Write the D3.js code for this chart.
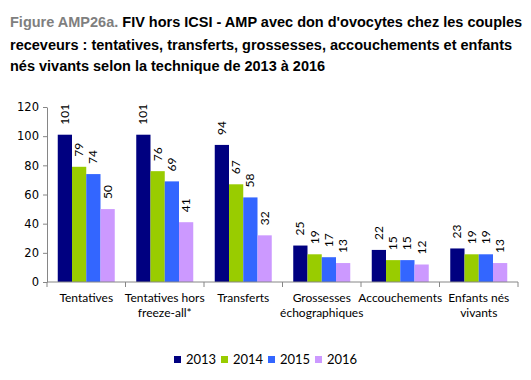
<!DOCTYPE html>
<html><head><meta charset="utf-8">
<script src="https://cdn.jsdelivr.net/npm/d3@7"></script>
<style>body{margin:0;background:#fff}</style>
</head><body>
<svg id="c" width="531" height="380"></svg>
<script>
const categories = [["Tentatives"],["Tentatives hors","freeze-all*"],["Transferts"],["Grossesses","échographiques"],["Accouchements"],["Enfants nés","vivants"]];
const years = ["2013","2014","2015","2016"];
const v2013 = [101,101,94,25,22,23];
const v2014 = [79,76,67,19,15,19];
const v2015 = [74,69,58,17,15,19];
const v2016 = [50,41,32,13,12,13];
const series = [v2013,v2014,v2015,v2016];
const colors = ["#000080","#99CC00","#3366FF","#CC99FF"];
const yTicks = [0,20,40,60,80,100,120];

const svg = d3.select("#c");
const tf = "Liberation Sans, Arial, sans-serif";
const t = svg.append("text").attr("x",10).attr("y",27).attr("font-family",tf).attr("font-size",14.5).attr("font-weight","bold");
t.append("tspan").attr("fill","#7f7f7f").text("Figure AMP26a. ");
t.append("tspan").attr("fill","#000").text("FIV hors ICSI - AMP avec don d'ovocytes chez les couples");
svg.append("text").attr("x",10).attr("y",50).attr("font-family",tf).attr("font-size",14.5).attr("font-weight","bold").text("receveurs : tentatives, transferts, grossesses, accouchements et enfants");
svg.append("text").attr("x",10).attr("y",71).attr("font-family",tf).attr("font-size",14.5).attr("font-weight","bold").text("nés vivants selon la technique de 2013 à 2016");

const x0 = d3.scaleBand().domain(d3.range(categories.length)).range([47,518]);
const x1 = d3.scaleBand().domain(years).range([0,57]);
const y = d3.scaleLinear().domain([0,120]).range([282,107]);
const font = "Lato, Carlito, Calibri, sans-serif";

const ya = svg.append("g").attr("transform","translate(47,0)").call(d3.axisLeft(y).tickValues(yTicks).tickSize(4).tickSizeOuter(0));
ya.select(".domain").attr("stroke","#868686");
ya.selectAll(".tick line").attr("stroke","#868686");
ya.selectAll(".tick text").attr("font-family","DejaVu Sans, Verdana, sans-serif").attr("font-size",11.5).attr("fill","#000").attr("x",-8);

const gOff = (x0.bandwidth()-57)/2;
series.forEach((s,si)=>{
  const g = svg.append("g");
  g.selectAll("rect").data(s).join("rect")
    .attr("x",(d,i)=>x0(i)+gOff+x1(years[si]))
    .attr("y",d=>y(d))
    .attr("width",x1.bandwidth())
    .attr("height",d=>y(0)-y(d))
    .attr("fill",colors[si]);
  g.selectAll("text").data(s).join("text")
    .attr("transform",(d,i)=>`translate(${x0(i)+gOff+x1(years[si])+x1.bandwidth()/2+4},${y(d)-10}) rotate(-90)`)
    .attr("font-family",font).attr("font-size",12).attr("fill","#000")
    .text(d=>d);
});

const xa = svg.append("g").attr("transform","translate(0,282)");
xa.append("line").attr("x1",47).attr("x2",518).attr("stroke","#868686");
const tickPos = d3.range(categories.length+1).map(i=> i<categories.length ? x0(i) : x0(categories.length-1)+x0.bandwidth());
xa.selectAll("line.t").data(tickPos).join("line").attr("class","t").attr("x1",d=>d).attr("x2",d=>d).attr("y1",0).attr("y2",5).attr("stroke","#868686");
categories.forEach((c,i)=>{
  const tx = xa.append("text").attr("x",x0(i)+x0.bandwidth()/2).attr("y",20).attr("text-anchor","middle").attr("font-family",font).attr("font-size",12).attr("fill","#000");
  c.forEach((line,li)=>tx.append("tspan").attr("x",x0(i)+x0.bandwidth()/2).attr("dy",li?15:0).text(line));
});

const lx = [174,221,268,315];
years.forEach((yr,i)=>{
  svg.append("rect").attr("x",lx[i]).attr("y",356).attr("width",7).attr("height",7).attr("fill",colors[i]);
  svg.append("text").attr("x",lx[i]+12).attr("y",364).attr("font-family",font).attr("font-size",13).attr("fill","#000").text(yr);
});
</script>
</body></html>
